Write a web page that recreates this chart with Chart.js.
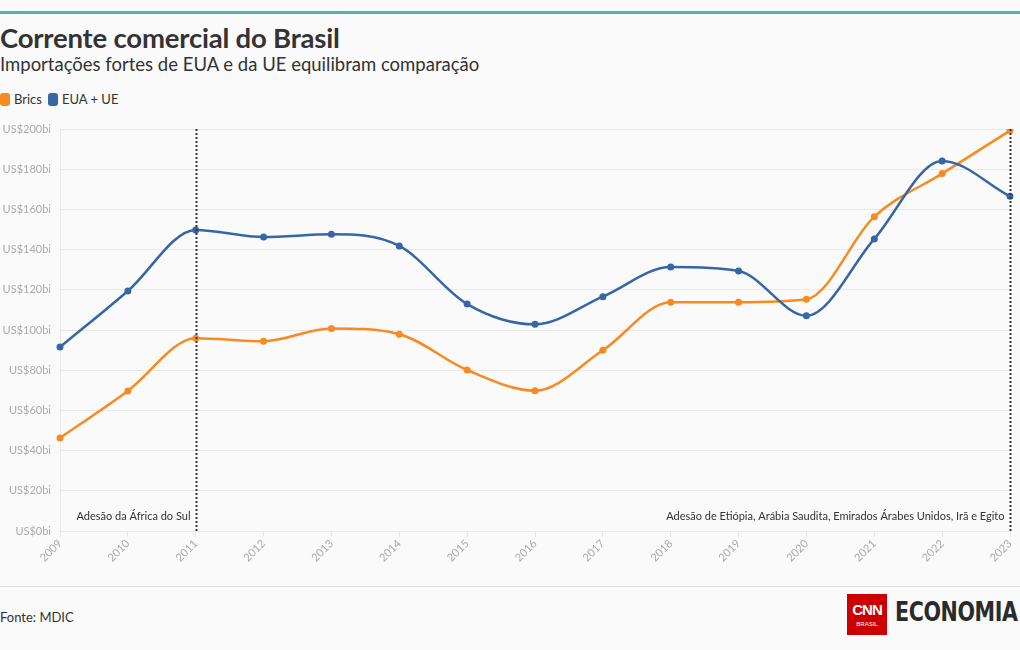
<!DOCTYPE html>
<html lang="pt-BR">
<head>
<meta charset="utf-8">
<script src="https://cdn.jsdelivr.net/npm/chart.js@4"></script>
<style>
  html, body { margin: 0; padding: 0; background: #fafafa; }
  body { width: 1020px; height: 650px; position: relative; overflow: hidden; font-family: Lato, "Noto Sans", sans-serif; color: #333; }
  .topbar { position: absolute; left: 0; top: 11px; width: 1020px; height: 3px; background: #4db69c; }
  h1 { position: absolute; left: 0; top: 21px; margin: 0; font-size: 27.5px; font-weight: 700; color: #333; letter-spacing: -0.2px; }
  .sub { position: absolute; left: 0; top: 53px; font-size: 18.5px; color: #333; }
  .legend { position: absolute; left: 0; top: 91px; font-size: 13px; color: #333; display: flex; align-items: center; }
  .legend span.sw { display: inline-block; width: 10px; height: 13px; border-radius: 3px; margin-right: 4px; }
  .legend .item { display: flex; align-items: center; margin-right: 6px; }
  #wrap { position: absolute; left: 0; top: 110px; width: 1020px; height: 480px; }
  .rule { position: absolute; left: 0; top: 586px; width: 1020px; height: 1px; background: #ddd; }
  .fonte { position: absolute; left: 0; top: 609px; font-size: 13px; color: #333; }
  .logo { position: absolute; left: 847px; top: 594px; width: 40px; height: 41px; background: #cc0000; color: #fff; text-align: center; font-family: "Liberation Sans", sans-serif; }
  .logo .cnn { font-size: 15px; font-weight: 700; line-height: 15px; margin-top: 8px; letter-spacing: -1px; }
  .logo .br { font-size: 6px; line-height: 8px; margin-top: 3px; }
  .eco { position: absolute; left: 895px; top: 596px; font-family: "DejaVu Sans Condensed", "Liberation Sans Narrow", sans-serif; font-weight: 700; font-size: 27px; color: #2b2b2b; letter-spacing: -0.5px; transform: scaleX(0.85); transform-origin: left top; }
</style>
</head>
<body>
<div class="topbar"></div>
<h1>Corrente comercial do Brasil</h1>
<div class="sub">Importações fortes de EUA e da UE equilibram comparação</div>
<div class="legend">
  <div class="item"><span class="sw" style="background:#f68b1f"></span>Brics</div>
  <div class="item"><span class="sw" style="background:#3766a7"></span>EUA + UE</div>
</div>
<div id="wrap"><canvas id="chart"></canvas></div>
<div class="rule"></div>
<div class="fonte">Fonte: MDIC</div>
<div class="logo"><div class="cnn">CNN</div><div class="br">BRASIL</div></div>
<div class="eco">ECONOMIA</div>
<script>
// anos e valores em US$ bilhões
const years = ['2009','2010','2011','2012','2013','2014','2015','2016','2017','2018','2019','2020','2021','2022','2023'];
const brics = [46.3, 69.7, 95.9, 94.4, 100.8, 97.9, 80.1, 69.8, 89.9, 113.8, 113.8, 115.3, 156.4, 177.8, 199.2];
const euaUe = [91.5, 119.4, 149.8, 146.3, 147.6, 141.8, 112.9, 102.8, 116.6, 131.3, 129.4, 107.1, 145.3, 184.1, 166.5];
const yTicks = [0, 20, 40, 60, 80, 100, 120, 140, 160, 180, 200];

// marcos (linhas pontilhadas)
const markers = [
  {year: '2011', text: 'Adesão da África do Sul'},
  {year: '2023', text: 'Adesão de Etiópia, Arábia Saudita, Emirados Árabes Unidos, Irã e Egito'}
];

const markerPlugin = {
  id: 'markers',
  afterDatasetsDraw(chart) {
    const {ctx, chartArea, scales} = chart;
    ctx.save();
    markers.forEach(m => {
      const x = Math.round(scales.x.getPixelForValue(years.indexOf(m.year))) + 0.5;
      ctx.strokeStyle = '#333';
      ctx.lineWidth = 2;
      ctx.setLineDash([2, 2]);
      ctx.beginPath();
      ctx.moveTo(x, chartArea.top);
      ctx.lineTo(x, chartArea.bottom);
      ctx.stroke();
      ctx.setLineDash([]);
      ctx.fillStyle = '#333';
      ctx.font = '11px Lato, "Noto Sans", sans-serif';
      ctx.textAlign = 'right';
      ctx.textBaseline = 'middle';
      ctx.fillText(m.text, x - 6, chartArea.bottom - 15);
    });
    ctx.restore();
  }
};

const ctx = document.getElementById('chart').getContext('2d');
new Chart(ctx, {
  type: 'line',
  data: {
    labels: years,
    datasets: [
      {label: 'EUA + UE', data: euaUe, borderColor: '#3766a7', backgroundColor: '#3766a7'},
      {label: 'Brics', data: brics, borderColor: '#f68b1f', backgroundColor: '#f68b1f'}
    ]
  },
  options: {
    responsive: true,
    maintainAspectRatio: false,
    animation: false,
    elements: {
      line: {borderWidth: 2.5, cubicInterpolationMode: 'monotone'},
      point: {radius: 3.5, borderWidth: 0, hoverRadius: 4}
    },
    layout: {padding: {top: 19, right: 10, left: 0, bottom: 0}},
    plugins: {legend: {display: false}, tooltip: {enabled: false}},
    scales: {
      x: {
        offset: false,
        grid: {display: true, drawOnChartArea: false, color: '#e6e6e6', tickLength: 6},
        border: {display: false},
        ticks: {color: '#aaa', font: {size: 11, family: 'Lato'}, minRotation: 45, maxRotation: 45, autoSkip: false, padding: 0},
        afterFit(s) { s.height = 59; }
      },
      y: {
        min: 0, max: 200,
        afterBuildTicks(s) { s.ticks = yTicks.map(v => ({value: v})); },
        grid: {color: '#e9e9e9', drawTicks: false},
        border: {display: true, color: '#e9e9e9'},
        ticks: {color: '#aaa', font: {size: 11, family: 'Lato'}, padding: 9, callback: v => 'US$' + v + 'bi'},
        afterFit(s) { s.width = 60; }
      }
    }
  },
  plugins: [markerPlugin]
});
</script>
</body>
</html>
